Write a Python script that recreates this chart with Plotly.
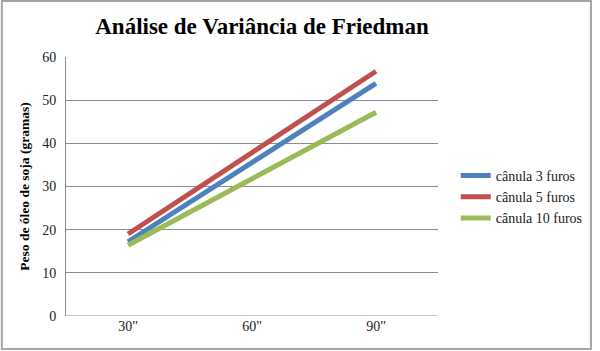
import plotly.graph_objects as go

categories = ['30"', '60"', '90"']
canula3 = [17.2, 35.6, 53.9]
canula5 = [19.0, 37.8, 56.7]
canula10 = [16.4, 31.9, 47.2]
series_names = ["cânula 3 furos", "cânula 5 furos", "cânula 10 furos"]
colors = ["#4F81BD", "#C0504D", "#9BBB59"]

W, H = 600, 351
L, R, T, B = 66, 157, 57, 35
pw, ph = W - L - R, H - T - B

fig = go.Figure()
for name, vals, c in zip(series_names, [canula3, canula5, canula10], colors):
    fig.add_trace(go.Scatter(x=categories, y=vals, mode="lines", name=name,
                             line=dict(color=c, width=5)))

serif = "Liberation Serif"
fig.update_layout(
    width=W, height=H,
    margin=dict(l=L, r=R, t=T, b=B),
    paper_bgcolor="white", plot_bgcolor="white",
    title=dict(text="<b>Análise de Variância de Friedman</b>",
               x=262 / W, xanchor="center", y=1 - 26 / H, yanchor="middle",
               font=dict(family=serif, size=23, color="black")),
    xaxis=dict(type="category", range=[-0.5, 2.5], showgrid=False,
               showline=False, ticks="", zeroline=False,
               tickfont=dict(family=serif, size=14, color="#222")),
    yaxis=dict(range=[0, 60], dtick=10, showgrid=True, gridcolor="#8c8c8c",
               gridwidth=1, showline=True, linecolor="#8c8c8c", linewidth=1,
               zeroline=False, ticks="", ticklabelstandoff=6,
               tickfont=dict(family=serif, size=14, color="#222"),
               title=dict(text="<b>Peso de óleo de soja (gramas)</b>", standoff=9,
                          font=dict(family=serif, size=13.5, color="black"))),
    legend=dict(x=(461 - L) / pw, xanchor="left", y=(316 - 197) / ph,
                yanchor="middle", font=dict(family=serif, size=14, color="#222"),
                itemwidth=30, tracegroupgap=0, bgcolor="rgba(0,0,0,0)"),
    shapes=[dict(type="rect", xref="paper", yref="paper",
                 x0=(1 - L) / pw, x1=(598 - L) / pw,
                 y0=(T + ph - 349) / ph, y1=(T + ph - 1) / ph,
                 line=dict(color="#a6a6a6", width=2), layer="below"),
            dict(type="line", xref="paper", yref="y", x0=0, x1=1, y0=0, y1=0,
                 line=dict(color="#8c8c8c", width=1))],
)
fig.write_html("out.html")
